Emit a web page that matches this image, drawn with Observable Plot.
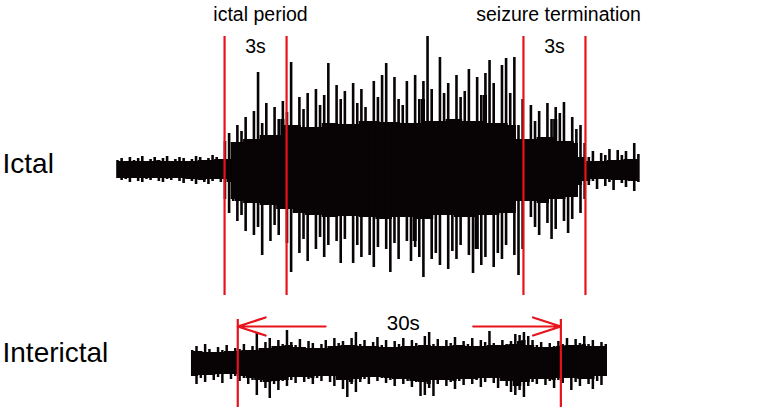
<!DOCTYPE html>
<html>
<head>
<meta charset="utf-8">
<script src="https://cdn.jsdelivr.net/npm/d3@7"></script>
<script src="https://cdn.jsdelivr.net/npm/@observablehq/plot@0.6"></script>
<style>
  html, body { margin: 0; padding: 0; background: #fff; }
  #chart svg { display: block; }
</style>
</head>
<body>
<div id="chart"></div>
<script>
// ---------------- DATA ----------------
// Ictal recording: peak amplitudes (a.u.) sampled every 0.2 s
const ictalStep = 0.2;
const ictalUp = [
  9,11,8,12,9,11,13,8,10,12,9,11,13,8,10,12,11,8,10,13,12,9,11,14,12,10,
  28,36,27,44,38,52,30,58,97,46,66,34,62,50,68,
  57,107,44,72,60,76,42,80,64,74,106,46,84,70,78,45,86,66,80,62,48,88,72,94,106,
  47,92,70,64,88,46,94,70,88,133,80,48,112,76,86,50,94,72,78,100,48,92,74,96,109,
  86,46,104,111,76,112,44,70,
  30,64,48,58,32,66,50,62,56,67,28,52,40,44,26,
  12,18,8,16,14,20,9,19,14,18,10,26,15
];
const ictalDown = [
  -9,-11,-10,-13,-9,-12,-13,-10,-11,-9,-12,-13,-10,-11,-9,-12,-14,-10,-12,-15,-11,-13,-15,-12,-10,-13,
  -30,-44,-32,-52,-46,-62,-34,-66,-58,-86,-36,-72,-56,-66,-40,
  -74,-103,-44,-84,-70,-92,-46,-80,-68,-88,-76,-48,-72,-94,-70,-47,-94,-76,-88,-48,-86,-98,-78,-50,-80,
  -103,-74,-90,-48,-72,-92,-78,-88,-108,-50,-90,-84,-96,-46,-100,-82,-90,-76,-48,-86,-104,-80,-96,-88,
  -46,-98,-84,-90,-76,-44,-86,-106,-80,
  -32,-48,-58,-66,-34,-54,-70,-60,-30,-52,-64,-50,-28,-44,-30,
  -16,-12,-20,-10,-17,-13,-21,-11,-14,-18,-12,-22,-13
];
// Interictal recording: peak amplitudes (a.u.) sampled every 0.4 s
const interStep = 0.4;
const interUp = [
  12,16,11,18,13,10,15,12,17,11,14,13,18,12,16,29,14,20,24,16,22,18,32,20,17,
  23,15,21,19,14,18,22,16,24,19,21,17,24,30,18,22,16,20,25,17,22,15,21,18,24,
  16,22,19,17,26,30,18,23,16,22,19,25,17,21,18,24,16,22,20,31,19,17,22,18,21,
  28,27,30,26,22,17,20,15,19,16,21,18,24,17,23,19,26,18,22,16,20,18
];
const interDown = [
  -14,-22,-16,-20,-13,-18,-15,-21,-12,-17,-14,-19,-16,-22,-18,-33,-20,-26,-36,-22,-28,-19,-24,-18,-21,
  -15,-20,-17,-22,-16,-19,-14,-20,-24,-18,-27,-35,-22,-30,-20,-17,-22,-15,-19,-16,-21,-18,-24,-17,-22,
  -19,-25,-20,-34,-33,-26,-34,-22,-18,-24,-20,-27,-19,-23,-17,-22,-18,-25,-20,-16,-21,-26,-19,-24,-30,
  -33,-28,-35,-24,-20,-22,-17,-23,-19,-26,-18,-21,-16,-28,-20,-24,-17,-22,-27,-19,-23,-14
];
// Event markers (s)
const ictalMarkers = [5.18, 8.18, 19.64, 22.64];
const ictalWindows = [
  {label: "ictal period", start: 5.18, end: 8.18, labelT: 6.92},
  {label: "seizure termination", start: 19.64, end: 22.64, labelT: 21.34}
];
const windowText = "3s";
const interMarkers = [4.23, 34.23];
const interSpanText = "30s";
const rowLabels = ["Ictal", "Interictal"];

// ---------------- BUILD ----------------
const black = "#080405";
const red = "#e8121c";
const font = "Liberation Sans, Arial, Helvetica, sans-serif";

// core band = lowest neighbouring peak (window of 5 samples), spikes drawn as columns
function rows(up, down, step) {
  return up.map((u, i) => {
    const lo = Math.max(0, i - 2), hi = Math.min(up.length - 1, i + 2);
    return {
      t: i * step,
      up: u,
      down: down[i],
      coreUp: d3.min(up.slice(lo, hi + 1)),
      coreDown: d3.max(down.slice(lo, hi + 1))
    };
  });
}
const ictalRows = rows(ictalUp, ictalDown, ictalStep);
const interRows = rows(interUp, interDown, interStep);

const topPlot = Plot.plot({
  width: 765, height: 300,
  marginLeft: 0, marginRight: 0, marginTop: 0, marginBottom: 0,
  x: {domain: [-5.66, 31.35], axis: null},
  y: {domain: [-131, 169], axis: null},
  style: {fontFamily: font, background: "white"},
  marks: [
    Plot.areaY(ictalRows, {x: "t", y1: "coreDown", y2: "coreUp", fill: black, curve: "step"}),
    Plot.ruleX(ictalRows, {x: "t", y1: "down", y2: "up", stroke: black, strokeWidth: 2.6}),
    Plot.ruleX(ictalMarkers, {x: d => d, y1: -126, y2: 133, stroke: red, strokeWidth: 2.2}),
    Plot.text(ictalWindows, {x: "labelT", y: 155, text: "label", fontSize: 19.5, fill: "#000"}),
    Plot.text(ictalWindows, {x: d => (d.start + d.end) / 2, y: 123, text: () => windowText, fontSize: 19.5, fill: "#000"}),
    Plot.text([rowLabels[0]], {frameAnchor: "left", y: 5.5, text: d => d, textAnchor: "start", dx: 2, fontSize: 28, fill: "#000"})
  ]
});

const bottomPlot = Plot.plot({
  width: 765, height: 111,
  marginLeft: 0, marginRight: 0, marginTop: 0, marginBottom: 0,
  x: {domain: [-17.8, 53.23], axis: null},
  y: {domain: [-49, 62], axis: null},
  style: {fontFamily: font, background: "white"},
  marks: [
    Plot.areaY(interRows, {x: "t", y1: "coreDown", y2: "coreUp", fill: black, curve: "step"}),
    Plot.ruleX(interRows, {x: "t", y1: "down", y2: "up", stroke: black, strokeWidth: 2.5}),
    Plot.ruleX(interMarkers, {x: d => d, y1: -45, y2: 43, stroke: red, strokeWidth: 2.2}),
    Plot.arrow([{x1: 12.38, x2: interMarkers[0]}, {x1: 26.09, x2: interMarkers[1]}], {
      x1: "x1", x2: "x2", y1: 36, y2: 36, stroke: red, strokeWidth: 2.2,
      headAngle: 36, headLength: 23
    }),
    Plot.text([interSpanText], {x: (interMarkers[0] + interMarkers[1]) / 2, y: 39, text: d => d, dx: 4, fontSize: 20.5, fill: "#000"}),
    Plot.text([rowLabels[1]], {frameAnchor: "left", y: 9, text: d => d, textAnchor: "start", dx: 2, fontSize: 28, fill: "#000"})
  ]
});

const chart = document.getElementById("chart");
chart.appendChild(topPlot);
chart.appendChild(bottomPlot);
</script>
</body>
</html>
